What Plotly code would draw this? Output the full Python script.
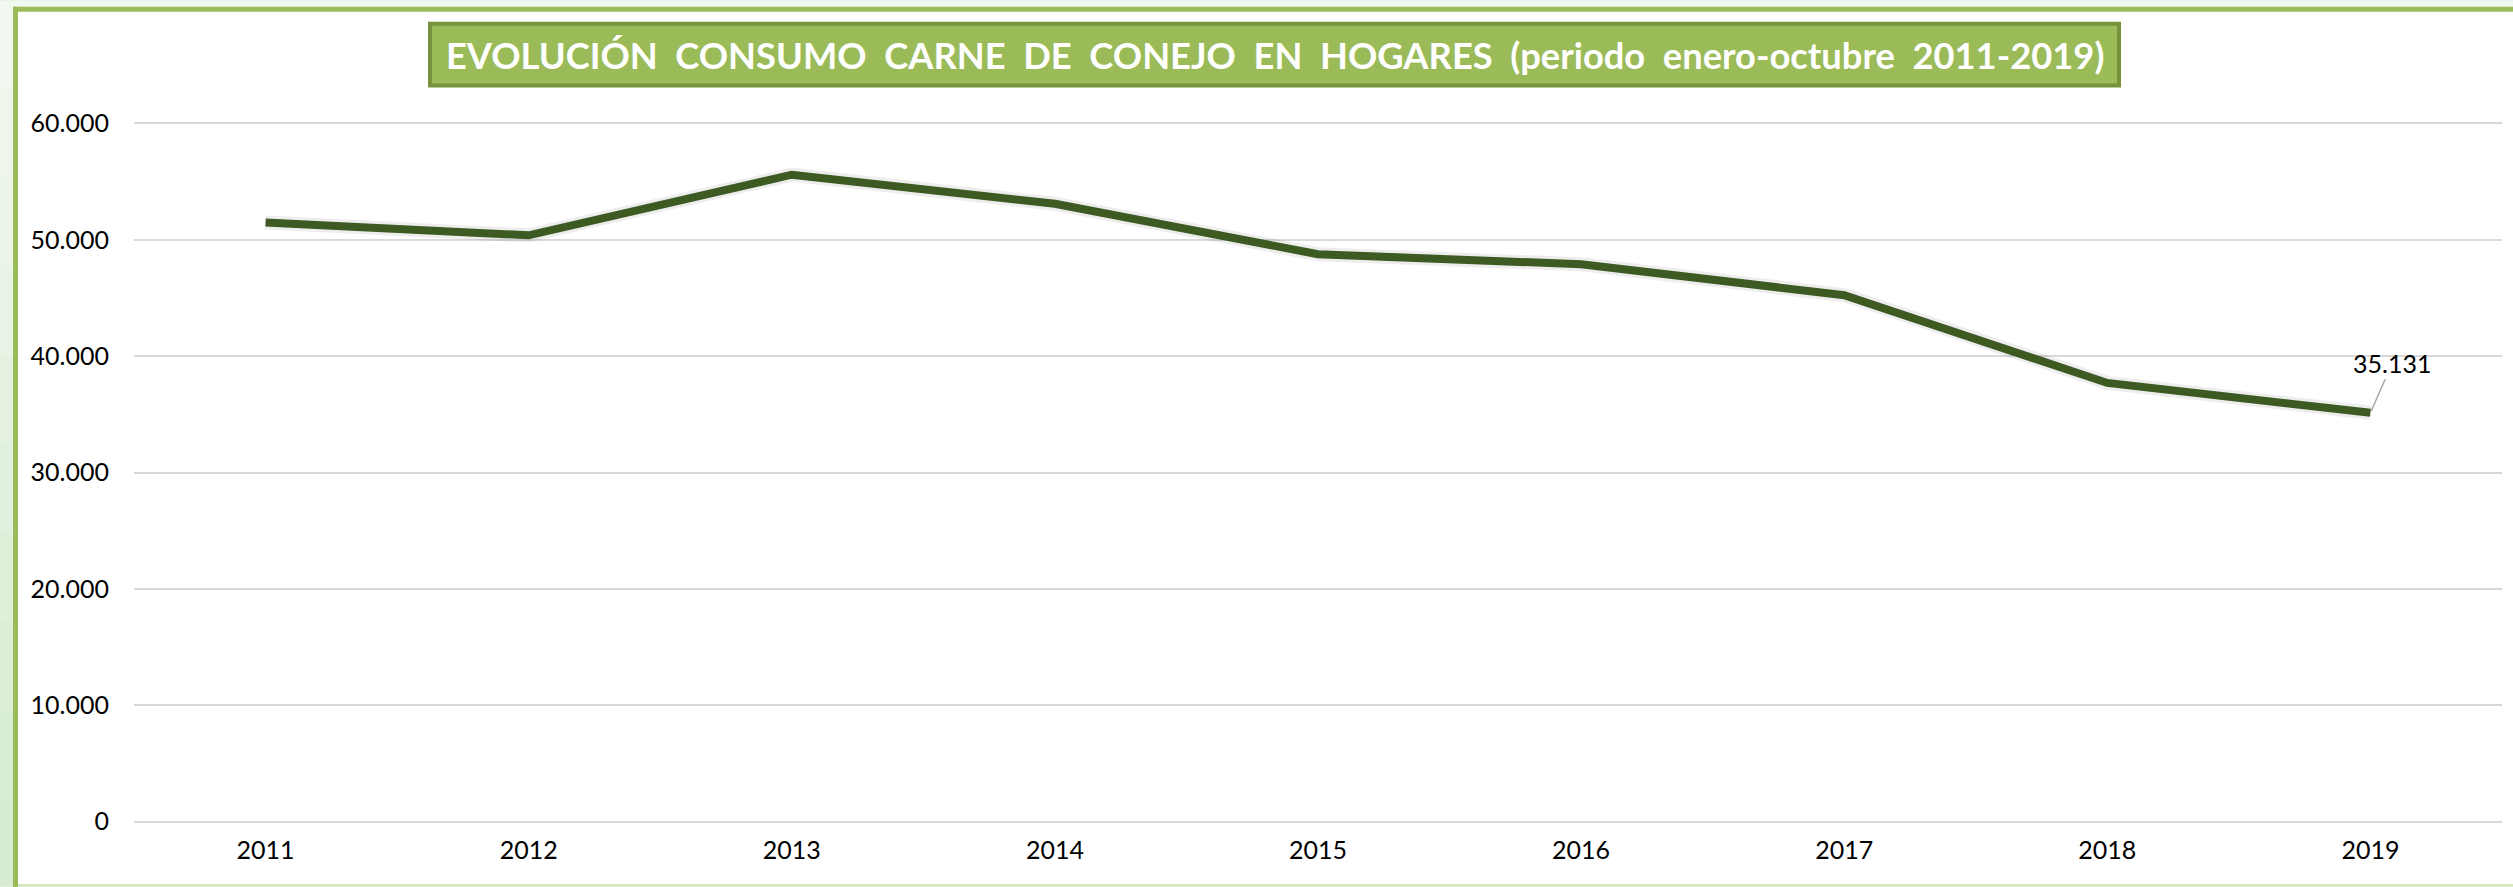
import plotly.graph_objects as go

years = ["2011", "2012", "2013", "2014", "2015", "2016", "2017", "2018", "2019"]
consumo = [51480, 50390, 55600, 53100, 48760, 47900, 45240, 37700, 35131]
y_ticks = [0, 10000, 20000, 30000, 40000, 50000, 60000]
y_tick_labels = ["0", "10.000", "20.000", "30.000", "40.000", "50.000", "60.000"]
title_text = "EVOLUCIÓN  CONSUMO  CARNE  DE  CONEJO  EN  HOGARES  (periodo  enero-octubre  2011-2019)"
last_label = "35.131"

W, H = 2513, 887
PAD = 300  # small data padding so the edge gridlines are drawn
px_per_unit = 699 / 60000
padpx = PAD * px_per_unit
L, R = 134, 11
T, B = 123 - padpx, 65 - padpx
PW, PH = W - L - R, H - T - B


def fx(px):
    return (px - L) / PW


def fy(py):
    return (H - B - py) / PH


fig = go.Figure()
fig.add_trace(go.Scatter(
    x=years, y=consumo, mode="lines",
    line=dict(color="rgba(0,0,0,0.07)", width=14),
    hoverinfo="skip", showlegend=False,
))
fig.add_trace(go.Scatter(
    x=years, y=consumo, mode="lines",
    line=dict(color="#3c5a22", width=8),
    showlegend=False,
))

shapes = []
bands = 10
for i in range(bands):
    t0 = i / bands
    c0 = (243, 249, 241)
    c1 = (213, 235, 207)
    col = tuple(int(c0[k] + (c1[k] - c0[k]) * (i + 0.5) / bands) for k in range(3))
    shapes.append(dict(type="rect", xref="paper", yref="paper", layer="below",
                       x0=fx(0), x1=fx(W), y0=fy(H * t0), y1=fy(H * (t0 + 1 / bands)),
                       fillcolor="rgb(%d,%d,%d)" % col, line=dict(width=0)))
shapes.append(dict(type="rect", xref="paper", yref="paper", layer="below",
                   x0=fx(15.5), x1=fx(W + 5), y0=fy(885), y1=fy(8.5),
                   fillcolor="white", line=dict(width=0)))
shapes.append(dict(type="line", xref="paper", yref="paper", layer="below",
                   x0=fx(15.5), x1=fx(15.5), y0=fy(H + 5), y1=fy(6),
                   line=dict(color="#9bbb59", width=5)))
shapes.append(dict(type="line", xref="paper", yref="paper", layer="below",
                   x0=fx(13), x1=fx(W + 5), y0=fy(8.5), y1=fy(8.5),
                   line=dict(color="#9bbb59", width=5)))
shapes.append(dict(type="line", xref="paper", yref="paper", layer="below",
                   x0=fx(18), x1=fx(W + 5), y0=fy(885.5), y1=fy(885.5),
                   line=dict(color="#d7e4bd", width=2)))
shapes.append(dict(type="rect", xref="paper", yref="paper", layer="above",
                   x0=fx(430), x1=fx(2119), y0=fy(85), y1=fy(23),
                   fillcolor="#9bbb59", line=dict(color="#76923c", width=4)))

annotations = [
    dict(text="<b>" + title_text + "</b>", xref="paper", yref="paper",
         x=fx(1274.5), y=fy(54), xanchor="center", yanchor="middle", showarrow=False,
         font=dict(family="Lato", size=36.3, color="white")),
    dict(text=last_label, x=len(years) - 1, y=consumo[-1], xref="x", yref="y",
         showarrow=True, arrowhead=0, arrowwidth=1.5, arrowcolor="#a6a6a6",
         ax=22, ay=-50, standoff=2,
         font=dict(family="Lato", size=25, color="#000000")),
]

fig.update_layout(
    width=W, height=H,
    margin=dict(l=L, r=R, t=T, b=B, pad=0),
    paper_bgcolor="#e6f2e2",
    plot_bgcolor="rgba(0,0,0,0)",
    shapes=shapes,
    annotations=annotations,
    font=dict(family="Lato", size=25, color="#000000"),
    xaxis=dict(type="category", range=[-0.5, 8.5], showgrid=False, showline=False,
               zeroline=False, ticks="", tickfont=dict(size=25, color="#000"),
               ticklabelstandoff=8),
    yaxis=dict(range=[-PAD, 60000 + PAD], tickvals=y_ticks, ticktext=y_tick_labels,
               showgrid=True, gridcolor="#d9d9d9", gridwidth=2, zeroline=False,
               showline=False, ticks="", tickfont=dict(size=25, color="#000"),
               ticklabelstandoff=24),
    showlegend=False,
)

fig.write_html("out.html", config={"displayModeBar": False},
               post_script="document.body.style.margin='0';document.body.style.overflow='hidden';")
